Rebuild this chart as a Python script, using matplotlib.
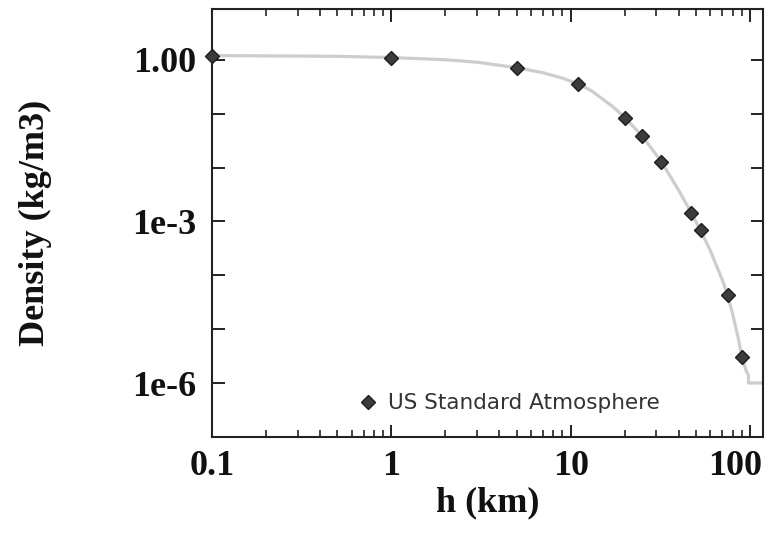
import matplotlib
matplotlib.use("Agg")
import matplotlib.pyplot as plt
import matplotlib.transforms as mtransforms
from matplotlib.ticker import NullFormatter, FixedLocator

# Curve (grey line)
curve_h = [0.1, 0.5, 1, 2, 3, 5, 7, 9, 11, 13, 15, 17, 20, 25, 32, 40, 47, 53, 60,
           70, 75, 80, 86, 90, 95, 98, 98, 120]
curve_rho = [1.21, 1.17, 1.11, 1.01, 0.91, 0.72, 0.58, 0.46, 0.36, 0.27, 0.19, 0.14,
             0.086, 0.039, 0.013, 0.0038, 0.00145, 0.00068, 0.00029, 8.3e-5, 4.3e-5,
             1.9e-5, 6.8e-6, 3.1e-6, 1.7e-6, 1.4e-6, 1.0e-6, 1.0e-6]

# US Standard Atmosphere markers
std_h = [0.1, 1, 5, 11, 20, 25, 32, 47, 53, 75, 90]
std_rho = [1.2, 1.1, 0.70, 0.36, 0.085, 0.039, 0.013, 0.00145, 0.00071, 4.3e-5, 3.1e-6]

x_major = [0.1, 1, 10, 100]
x_labels = ["0.1", "1", "10", "100"]
y_ticks = [1e0, 1e-1, 1e-2, 1e-3, 1e-4, 1e-5, 1e-6]
y_labels = ["1.00", "", "", "1e-3", "", "", "1e-6"]

fig = plt.figure(figsize=(7.81, 5.36), dpi=100)
ax = fig.add_axes([0.2714, 0.1847, 0.977 - 0.2714, 0.9827 - 0.1847])
ax.set_xscale("log")
ax.set_yscale("log")

ax.plot(curve_h, curve_rho, color="#cdcdcd", lw=2.3, zorder=2)
ax.plot(std_h, std_rho, ls="none", marker="D", ms=7, mfc="#3c3c3c", mec="#1e1e1e",
        mew=1.0, zorder=3, label="US Standard Atmosphere", clip_on=False)

ax.set_xlim(0.1, 10 ** 2.0725)
ax.set_ylim(10 ** -7.003, 10 ** 0.942)

serif = ["Liberation Serif", "DejaVu Serif"]
ax.set_xticks(x_major)
ax.set_xticklabels(x_labels)
ax.xaxis.set_minor_locator(FixedLocator([m * d for d in [0.1, 1, 10] for m in range(2, 10)]))
ax.xaxis.set_minor_formatter(NullFormatter())
ax.set_yticks(y_ticks)
ax.set_yticklabels(y_labels)
ax.yaxis.set_minor_locator(FixedLocator([]))

ax.tick_params(which="major", direction="in", length=9, width=1.4, color="#222222",
               top=True, right=True)
ax.tick_params(which="minor", direction="in", length=5, width=1.2, color="#222222",
               top=True, right=True)
ax.tick_params(axis="y", pad=11)
ax.tick_params(axis="x", pad=9)

for lab in ax.get_xticklabels() + ax.get_yticklabels():
    lab.set_fontfamily(serif)
    lab.set_fontweight("bold")
    lab.set_fontsize(26)
    lab.set_color("#111111")

# the last x label sits shifted left, as in the original
last = ax.xaxis.get_major_ticks()[-1].label1
last.set_transform(last.get_transform() +
                   mtransforms.ScaledTranslation(-15 / 100, 0, fig.dpi_scale_trans))

for s in ax.spines.values():
    s.set_linewidth(1.5)
    s.set_color("#222222")

ax.set_xlabel("h (km)", fontfamily=serif, fontweight="bold", fontsize=26,
              color="#111111")
ax.set_ylabel("Density (kg/m3)", fontfamily=serif, fontweight="bold", fontsize=26,
              color="#111111")
ax.xaxis.set_label_coords(0.5, -0.115)
ax.yaxis.set_label_coords(-0.29, 0.5)

leg = ax.legend(loc="center", bbox_to_anchor=(0.538, 0.079), frameon=False,
                prop={"family": "DejaVu Sans", "size": 15.5}, handletextpad=0.45,
                handlelength=1.0)
for t in leg.get_texts():
    t.set_color("#333333")

fig.savefig("out.png", dpi=100)
